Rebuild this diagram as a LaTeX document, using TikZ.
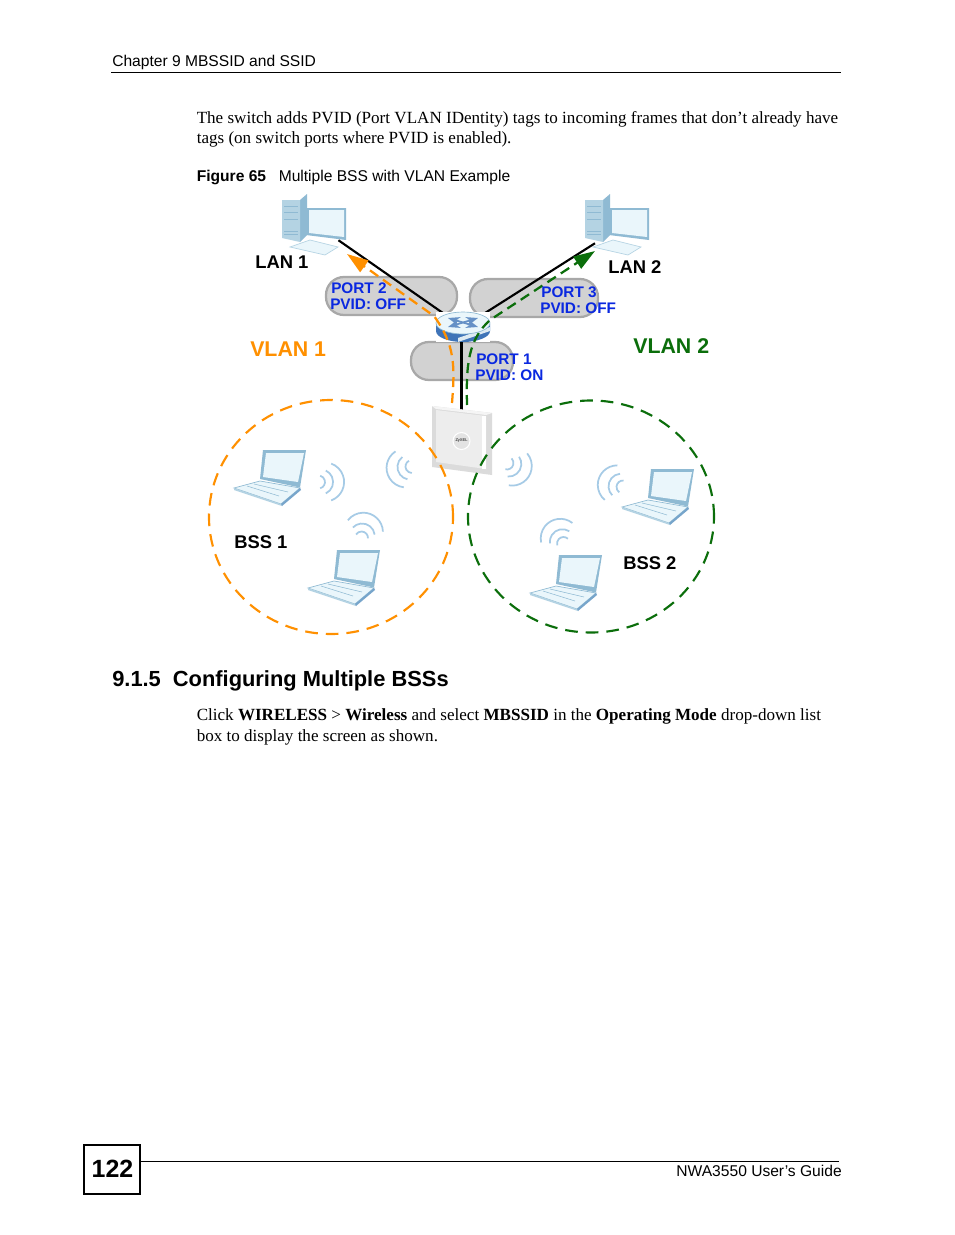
\documentclass[tikz,border=0pt]{standalone}
\usepackage{fontspec}
\setmainfont{Liberation Serif}
\setsansfont{Liberation Sans}
\usetikzlibrary{arrows.meta}

\definecolor{vlanorange}{HTML}{FF9000}
\definecolor{vlangreen}{HTML}{0B6E0B}
\definecolor{portblue}{HTML}{0A28E0}
\definecolor{pillgray}{HTML}{D2D2D2}
\definecolor{pilledge}{HTML}{A8A8A8}
\definecolor{devblue}{HTML}{8FBAD3}
\definecolor{devpale}{HTML}{EAF6FB}
\definecolor{devmid}{HTML}{B4D3E3}
\definecolor{wavecol}{HTML}{A6CBE6}
\definecolor{switchblue}{HTML}{3F74B8}

\tikzset{
  body/.style={anchor=base west, inner sep=0pt, font=\fontsize{12.8}{15}\selectfont},
  sans/.style={anchor=base west, inner sep=0pt, font=\sffamily\fontsize{11.7}{14}\selectfont},
  devlabel/.style={anchor=base west, inner sep=0pt, font=\sffamily\bfseries\fontsize{13.8}{16}\selectfont},
  portlabel/.style={anchor=base west, inner sep=0pt, text=portblue, font=\sffamily\bfseries\fontsize{11.5}{13}\selectfont},
  vlanlabel/.style={anchor=base west, inner sep=0pt, font=\sffamily\bfseries\fontsize{16}{18}\selectfont},
  pill/.style={draw=pilledge, fill=pillgray, line width=1.7pt, rounded corners=13.5pt},
  bssring/.style={line width=1.6pt, dash pattern=on 9.5pt off 6pt},
  tagline/.style={line width=1.7pt, dash pattern=on 7.5pt off 4.5pt, -{Triangle[length=16pt,width=10.5pt]}},
  linkline/.style={line width=1.6pt},
  laptop/.pic={
    % base
    \fill[devpale, draw=devblue, line width=.5pt] (0,0) -- (26,7) -- (66,0) -- (47,-16) -- cycle;
    \fill[devmid] (0,0) -- (47,-16) -- (48,-18) -- (0,-2) -- cycle;
    \fill[devblue!70!switchblue] (47,-16) -- (66,0) -- (67,-2) -- (48,-18) -- cycle;
    \draw[devblue, line width=.4pt] (13,2) -- (45,-8) (20,4) -- (54,-4);
    % lid
    \fill[devblue] (29,38) -- (72,38) -- (66,0.5) -- (26,9) -- cycle;
    \fill[devpale] (32,35) -- (70,35) -- (64,6) -- (29,11) -- cycle;
  },
  desktop/.pic={
    % tower
    \fill[devblue] (18,0) -- (25,6) -- (25,-35) -- (18,-42) -- cycle;
    \fill[devmid] (0,0) -- (18,0) -- (18,-42) -- (0,-38) -- cycle;
    \draw[devblue, line width=.4pt] (2,-6) -- (16,-6) (2,-12) -- (16,-12) (2,-19) -- (16,-19) (2,-31) -- (16,-31) (2,-34) -- (16,-34);
    % screen
    \fill[devblue] (24,-8) -- (64,-8) -- (64,-40) -- (24,-35) -- cycle;
    \fill[devpale] (27,-10) -- (62,-10) -- (62,-37) -- (27,-33) -- cycle;
    % keyboard
    \fill[devpale, draw=devmid, line width=.5pt] (8,-47) -- (28,-40) -- (56,-47) -- (43,-55) -- cycle;
  },
  wifi/.pic={
    \foreach \r/\o/\a in {6.5/0/75, 12.6/2/65, 19.6/6/70}
      \draw[wavecol, line width=1.3pt] (\o*.75pt,0) ++(-\a:\r*.75pt) arc[start angle=-\a, end angle=\a, radius=\r*.75pt];
  }
}

\begin{document}
\begin{tikzpicture}[x=.75pt, y=.75pt]
  \useasboundingbox (0,0) rectangle (954,-1235);
  \fill[white] (0,0) rectangle (954,-1235);

  % Page head
  \node[sans] (chapter) at (112,-66) {Chapter 9 MBSSID and SSID};
  \draw[line width=.7pt] (111,-72) -- (841,-72);
  \node[body] (introa) at (196.5,-123) {The switch adds PVID (Port VLAN IDentity) tags to incoming frames that don’t already have};
  \node[body] (introb) at (196.5,-143) {tags (on switch ports where PVID is enabled).};
  \node[sans] (figno) at (196.5,-181) {\textbf{Figure 65}};
  \node[sans] (figtitle) at (278.5,-181) {Multiple BSS with VLAN Example};

  % Port pills
  \draw[pill] (326,-277) rectangle (457,-315);
  \draw[pill] (470,-279) rectangle (598,-317);
  \draw[pill] (411,-342) rectangle (513,-380);

  % Devices
  \node[minimum width=48pt, minimum height=31.5pt, inner sep=0pt] (lanpca) at (314,-219) {};
  \node[minimum width=48pt, minimum height=31.5pt, inner sep=0pt] (lanpcb) at (617,-222) {};
  \pic at (282,-200) {desktop};
  \pic at (585,-200) {desktop};
  \node[minimum width=45pt, minimum height=46pt, inner sep=0pt] (ap) at (461.5,-441) {};
  \node[minimum width=40.5pt, minimum height=22.5pt, inner sep=0pt] (switch) at (463,-327) {};

  % Wired links
  \draw[linkline] (lanpca.-41) -- (switch.center);
  \draw[linkline] (lanpcb.224) -- (switch.center);
  \draw[linkline] (switch.center -| ap.north) -- (ap.north);

  % Switch
  \fill[white] (switch.south west) rectangle (switch.north east);
  \fill[switchblue] (436,-324) -- (436,-331) arc[start angle=180, end angle=360, x radius=27, y radius=11] -- (490,-324) -- cycle;
  \fill[white!70!devblue] (458,-342) -- (490,-331) -- (490,-327) -- (458,-338) -- cycle;
  \fill[devpale, draw=devblue, line width=.5pt] (463,-323) ellipse [x radius=27, y radius=11];
  \draw[switchblue!80!white, line width=1.3pt, <->, >=Stealth] (448,-318) -- (478,-327);
  \draw[switchblue!80!white, line width=1.3pt, <->, >=Stealth] (448,-327) -- (478,-318);

  % Access point
  \fill[gray!28] (432,-406) -- (492,-413) -- (492,-475) -- (432,-467) -- cycle;
  \fill[white!92!gray] (432,-406) -- (492,-413) -- (486,-415) -- (436,-409) -- cycle;
  \fill[gray!14] (436,-410) -- (486,-416) -- (486,-469) -- (436,-462) -- cycle;
  \fill[white] (482,-416) rectangle (486,-469);
  \fill[gray!22, draw=white, line width=.8pt] (ap.center) circle (8.5);
  \node[font=\sffamily\fontsize{3}{3}\selectfont, inner sep=0pt] (aplogo) at (ap.center) {ZyXEL};

  % Tagged paths
  \coordinate (orangestart) at (452,-403);
  \coordinate (orangetip) at (347,-254);
  \coordinate (greenstart) at (467,-405);
  \coordinate (greentip) at (595,-251);
  \draw[tagline, vlanorange] (orangestart) .. controls (455,-365) and (455,-345) .. (434,-316) -- (orangetip);
  \draw[tagline, vlangreen] (greenstart) .. controls (466,-365) and (468,-340) .. (490,-320) -- (greentip);

  % Wireless clients
  \foreach \x/\y in {234/488, 308/588, 622/507, 530/593}
    \pic at (\x,-\y) {laptop};
  \foreach \x/\y/\a in {318.5/482/0, 412/466.5/193, 361.5/538/72, 507/463/-30, 623/487/160, 563.5/543.5/122}
    \pic[rotate=\a] at (\x,-\y) {wifi};

  % BSS rings
  \draw[bssring, vlanorange] (331,-517) ellipse [x radius=122, y radius=117];
  \draw[bssring, vlangreen] (591,-516.5) ellipse [x radius=123, y radius=116];

  % Labels
  \node[devlabel] (lana) at (255,-268) {LAN 1};
  \node[devlabel] (lanb) at (608,-273) {LAN 2};
  \node[devlabel] (bssa) at (234,-548) {BSS 1};
  \node[devlabel] (bssb) at (623,-569) {BSS 2};
  \node[vlanlabel, text=vlanorange] (vlana) at (250,-356) {VLAN 1};
  \node[vlanlabel, text=vlangreen] (vlanb) at (633,-353) {VLAN 2};
  \node[portlabel] (porta) at (331,-293) {PORT 2};
  \node[portlabel] (pvida) at (330,-309) {PVID: OFF};
  \node[portlabel] (portb) at (541,-297) {PORT 3};
  \node[portlabel] (pvidb) at (540,-313) {PVID: OFF};
  \node[portlabel] (portc) at (476,-364) {PORT 1};
  \node[portlabel] (pvidc) at (475,-380) {PVID: ON};

  % Section text
  \node[anchor=base west, inner sep=0pt, font=\sffamily\bfseries\fontsize{16.4}{19}\selectfont] (section) at (112,-686) {9.1.5\hspace{9pt}Configuring Multiple BSSs};
  \node[body] (clicka) at (196.5,-720) {Click \textbf{WIRELESS} > \textbf{Wireless} and select \textbf{MBSSID} in the \textbf{Operating Mode} drop-down list};
  \node[body] (clickb) at (196.5,-741) {box to display the screen as shown.};

  % Page foot
  \draw[line width=1.1pt] (84,-1145) rectangle (140,-1194);
  \draw[line width=.7pt] (140,-1161) -- (839,-1161);
  \node[anchor=base, inner sep=0pt, font=\sffamily\bfseries\fontsize{18.7}{22}\selectfont] (pageno) at (112.5,-1177) {122};
  \node[sans, anchor=base east] (guide) at (842,-1176) {NWA3550 User’s Guide};
\end{tikzpicture}
\end{document}
